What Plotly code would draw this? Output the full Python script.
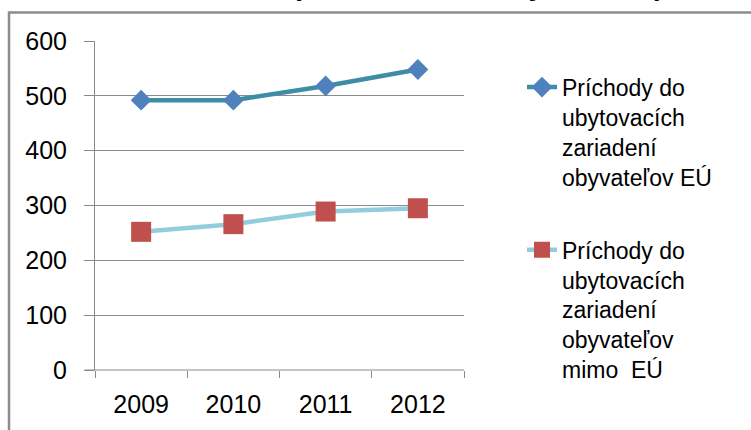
import plotly.graph_objects as go

years = ["2009", "2010", "2011", "2012"]
eu_arrivals = [492, 492, 518, 548]
non_eu_arrivals = [252, 266, 289, 295]
y_ticks = [0, 100, 200, 300, 400, 500, 600]
name_eu = "Príchody do<br>ubytovacích<br>zariadení<br>obyvateľov EÚ"
name_non_eu = "Príchody do<br>ubytovacích<br>zariadení<br>obyvateľov<br>mimo  EÚ"
title_text = "(v tis. osôb za roky 2009-12)"

FONT = "Arial, Liberation Sans, sans-serif"
GRID = "#8a8a8a"

W, H = 751, 430
L, R, T, B = 95, 751 - 464, 41, 430 - 375
pw, ph = W - L - R, H - T - B

def px(x):
    return (x - L) / pw

def py(y):
    return (H - B - y) / ph

fig = go.Figure()
fig.add_trace(go.Scatter(
    x=years, y=eu_arrivals, name=name_eu, mode="lines+markers",
    legendgroup="a",
    line=dict(color="#3b8ea5", width=4.5),
    marker=dict(symbol="diamond", size=16, color="#4f81bd"),
))
fig.add_trace(go.Scatter(
    x=years, y=non_eu_arrivals, name=name_non_eu, mode="lines+markers",
    legendgroup="b",
    line=dict(color="#93cddd", width=4.5),
    marker=dict(symbol="square", size=20, color="#c0504d"),
))

fig.update_layout(
    width=W, height=H,
    margin=dict(l=L, r=R, t=T, b=B, pad=0),
    paper_bgcolor="white", plot_bgcolor="white",
    font=dict(family=FONT, size=24, color="#000000"),
    showlegend=True,
    legend=dict(
        x=px(522), y=py(66), xanchor="left", yanchor="top",
        font=dict(family=FONT, size=23, color="#000000"),
        valign="top", tracegroupgap=40, traceorder="grouped",
        bgcolor="rgba(0,0,0,0)",
    ),
    xaxis=dict(
        type="category", tickson="boundaries",
        showgrid=False, showline=False, zeroline=False,
        ticks="outside", ticklen=7, tickcolor=GRID, tickwidth=1,
        tickfont=dict(family=FONT, size=25, color="#000000"),
        ticklabelstandoff=17,
        range=[-0.5, 3.5],
    ),
    yaxis=dict(
        range=[0, 600], tickvals=y_ticks,
        showgrid=True, gridcolor=GRID, gridwidth=1,
        showline=True, linecolor=GRID, linewidth=1,
        zeroline=False,
        ticks="outside", ticklen=10, tickcolor=GRID, tickwidth=1,
        tickfont=dict(family=FONT, size=25, color="#000000"),
        ticklabelstandoff=12,
    ),
    shapes=[
        dict(type="line", xref="paper", yref="paper",
             x0=px(85), x1=1, y0=0, y1=0,
             line=dict(color=GRID, width=1), layer="below"),
        dict(type="rect", xref="paper", yref="paper",
             x0=px(9), x1=px(W + 20), y0=py(12), y1=py(H + 20),
             line=dict(color="#8c8c8c", width=2.5)),
    ],
    annotations=[
        dict(text="<b>" + title_text + "</b>", xref="paper", yref="paper",
             x=px(478), y=py(2.5), xanchor="center", yanchor="bottom",
             showarrow=False, font=dict(family=FONT, size=28, color="#000000")),
    ],
)

fig.write_html(
    "out.html",
    config={"displayModeBar": False},
    post_script="document.body.style.margin='0';document.body.style.overflow='hidden';",
)
